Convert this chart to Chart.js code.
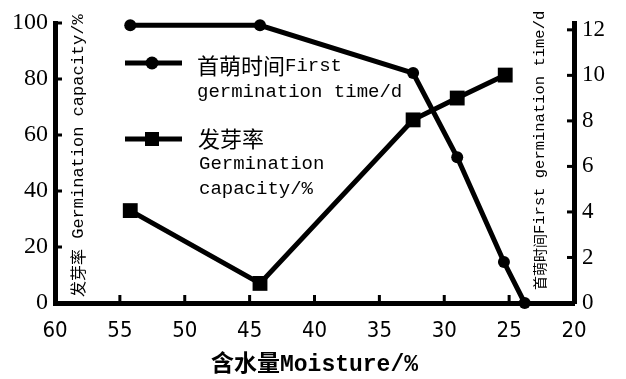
<!DOCTYPE html>
<html>
<head>
<meta charset="utf-8">
<script src="https://cdn.jsdelivr.net/npm/chart.js@4.4.1/dist/chart.umd.min.js"></script>
<style>
  html, body { margin: 0; padding: 0; background: #fff; }
  #wrap { width: 626px; height: 379px; }
</style>
</head>
<body>
<div id="wrap"><canvas id="chart" width="626" height="379"></canvas></div>
<script>
// Moisture content (%) of each sample and the two measured responses
const moisture        = [54.2, 44.2, 32.4, 29.0, 25.4, 23.8];
const firstGermDays   = [12.2, 12.2, 10.1, 6.4, 1.8, 0];
const capMoisture     = [54.2, 44.2, 32.4, 29.0, 25.3];
const germCapacity    = [33, 7, 65.4, 73.2, 81.4];

// Axis tick values
const xTicks     = [60, 55, 50, 45, 40, 35, 30, 25, 20];
const leftTicks  = [0, 20, 40, 60, 80, 100];
const rightTicks = [0, 2, 4, 6, 8, 10, 12];

const INK = '#000';
const MONO = '"Liberation Mono", "DejaVu Sans Mono", monospace';
const CJK = '"Noto Sans CJK SC", sans-serif';
const NARROW = '"Liberation Sans Narrow", "DejaVu Sans Condensed", "Liberation Sans", sans-serif';
const SERIF = '"Liberation Serif", "DejaVu Serif", serif';

// Draw text made of CJK and Latin runs, each with its own font, left to right
function mixedText(ctx, text, x, y, cjkSize, latinSize, bold) {
  const runs = text.match(/[\u3000-\u9fff]+|[^\u3000-\u9fff]+/g) || [];
  let cx = x;
  runs.forEach(r => {
    const isCjk = /[\u3000-\u9fff]/.test(r);
    ctx.font = (bold ? 'bold ' : '') + (isCjk ? cjkSize + 'px ' + CJK : latinSize + 'px ' + MONO);
    ctx.fillText(r, cx, y);
    cx += ctx.measureText(r).width;
  });
}

const decor = {
  id: 'decor',
  afterDraw(chart) {
    const { ctx, chartArea: a, scales } = chart;
    ctx.save();
    ctx.fillStyle = INK;
    ctx.strokeStyle = INK;

    // inward tick marks
    xTicks.forEach(v => {
      const px = scales.x.getPixelForValue(v);
      ctx.fillRect(px - 1.5, a.bottom - 8, 3, 8);
    });
    leftTicks.forEach(v => {
      const py = scales.y.getPixelForValue(v);
      ctx.fillRect(a.left, py - 1.5, 7, 3);
    });
    rightTicks.forEach(v => {
      const py = scales.y2.getPixelForValue(v);
      ctx.fillRect(a.right - 7, py - 1.5, 7, 3);
    });

    // vertical axis titles, reading bottom to top inside the plot
    ctx.textBaseline = 'middle';
    ctx.textAlign = 'left';
    ctx.save();
    ctx.translate(78, 297);
    ctx.rotate(-Math.PI / 2);
    mixedText(ctx, '发芽率 Germination capacity/%', 0, 0, 16, 17, false);
    ctx.restore();

    ctx.save();
    ctx.translate(540, 290);
    ctx.rotate(-Math.PI / 2);
    mixedText(ctx, '首萌时间First germination time/d', 0, 0, 14, 15.5, false);
    ctx.restore();

    // legend
    ctx.lineWidth = 5;
    ctx.beginPath();
    ctx.moveTo(125, 63); ctx.lineTo(182, 63);
    ctx.stroke();
    ctx.beginPath();
    ctx.arc(152, 63, 6.5, 0, Math.PI * 2);
    ctx.fill();

    ctx.beginPath();
    ctx.moveTo(125, 139); ctx.lineTo(182, 139);
    ctx.stroke();
    ctx.fillRect(152 - 7, 139 - 7, 14, 14);

    mixedText(ctx, '首萌时间First', 197, 66, 22, 19, false);
    mixedText(ctx, 'germination time/d', 197, 92, 22, 19, false);
    mixedText(ctx, '发芽率', 198, 139, 22, 19, false);
    mixedText(ctx, 'Germination', 199, 164, 22, 19, false);
    mixedText(ctx, 'capacity/%', 199, 189, 22, 19, false);

    ctx.restore();
  }
};

new Chart(document.getElementById('chart'), {
  type: 'line',
  data: {
    datasets: [
      {
        label: '首萌时间First germination time/d',
        data: moisture.map((m, i) => ({ x: m, y: firstGermDays[i] })),
        yAxisID: 'y2',
        borderColor: INK,
        backgroundColor: INK,
        borderWidth: 5,
        pointStyle: 'circle',
        pointRadius: 6,
        pointBorderWidth: 0,
        tension: 0,
        clip: false
      },
      {
        label: '发芽率 Germination capacity/%',
        data: capMoisture.map((m, i) => ({ x: m, y: germCapacity[i] })),
        yAxisID: 'y',
        borderColor: INK,
        backgroundColor: INK,
        borderWidth: 5,
        pointStyle: 'rect',
        pointRadius: 10.5,
        pointBorderWidth: 0,
        tension: 0,
        clip: false
      }
    ]
  },
  options: {
    responsive: false,
    animation: false,
    devicePixelRatio: 1,
    layout: { padding: { top: 23, left: 0, right: 0, bottom: 0 } },
    plugins: { legend: { display: false }, tooltip: { enabled: false } },
    scales: {
      x: {
        type: 'linear',
        reverse: true,
        min: 20,
        max: 60,
        afterBuildTicks: s => { s.ticks = xTicks.map(v => ({ value: v })); },
        afterFit: s => { s.height = 76; },
        grid: { display: false, drawTicks: false },
        border: { display: true, width: 5, color: INK },
        ticks: { color: INK, padding: 15, maxRotation: 0, autoSkip: false,
                  font: { family: NARROW, size: 22 } },
        title: {
          display: true,
          text: '含水量Moisture/%',
          color: INK,
          font: { family: '"Liberation Mono", "Noto Sans CJK SC", monospace', size: 23, weight: 'bold' },
          padding: { top: 0, bottom: 0 }
        }
      },
      y: {
        position: 'left',
        min: 0,
        max: 100,
        afterBuildTicks: s => { s.ticks = leftTicks.map(v => ({ value: v })); },
        afterFit: s => { s.width = 55; },
        grid: { display: false, drawTicks: false },
        border: { display: true, width: 5, color: INK },
        ticks: { color: INK, padding: 7, font: { family: SERIF, size: 24 } }
      },
      y2: {
        position: 'right',
        min: 0,
        max: 12.3,
        afterBuildTicks: s => { s.ticks = rightTicks.map(v => ({ value: v })); },
        afterFit: s => { s.width = 52; },
        grid: { display: false, drawTicks: false },
        border: { display: true, width: 5, color: INK },
        ticks: { color: INK, padding: 8, font: { family: SERIF, size: 23 } }
      }
    }
  },
  plugins: [decor]
});
</script>
</body>
</html>
